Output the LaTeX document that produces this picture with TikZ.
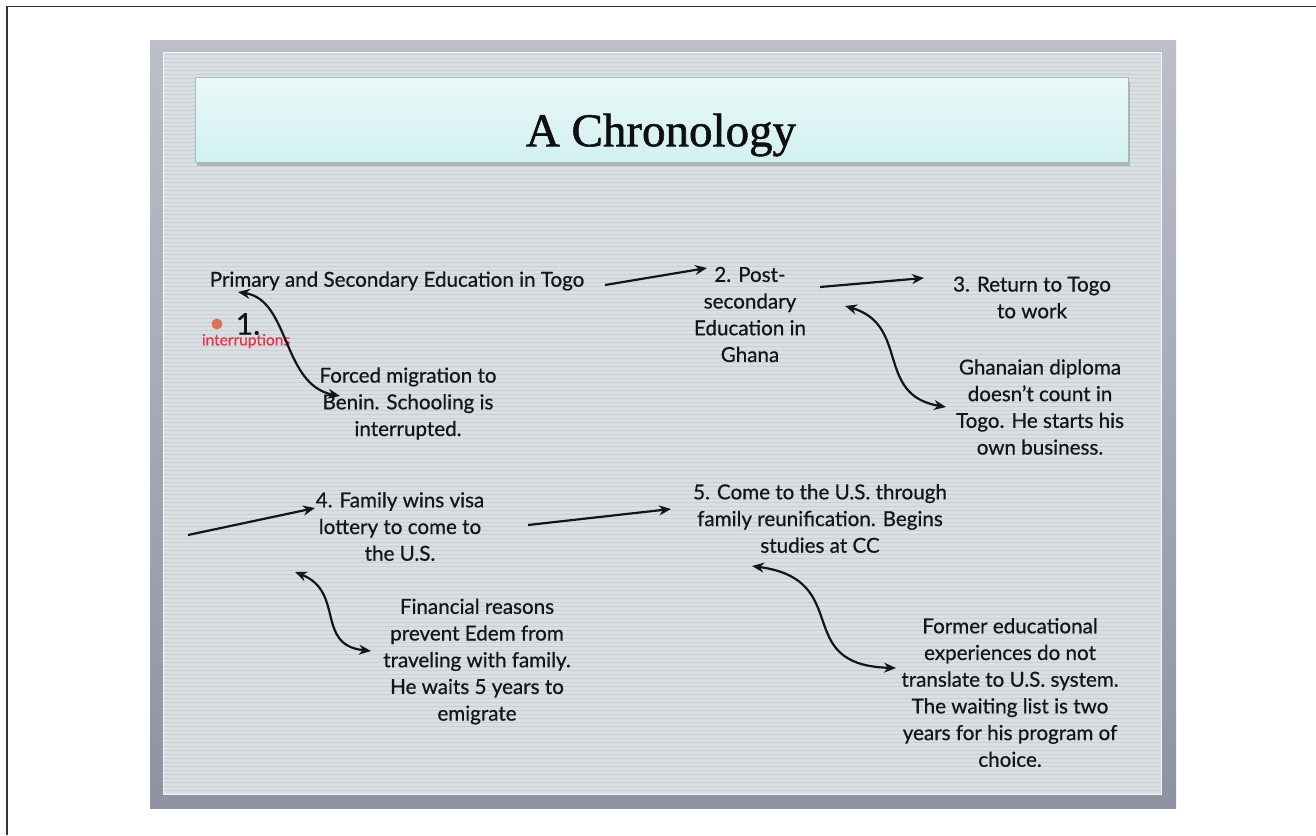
\documentclass[tikz,border=0pt]{standalone}
\usepackage{fontspec}
\setmainfont{Lato}[FakeBold=0.6]
\newfontfamily\titlefont{Liberation Serif}[FakeBold=1.2]
\usetikzlibrary{arrows.meta,calc,shadows}
\definecolor{frameC}{HTML}{A6AAB8}
\definecolor{frameD}{HTML}{8E92A2}
\definecolor{innerC}{HTML}{D9DFE2}
\definecolor{stripeC}{HTML}{C9D0D4}
\definecolor{titleTop}{HTML}{EAF8F8}
\definecolor{titleBot}{HTML}{D2F0F1}
\definecolor{titleEdge}{HTML}{9FBDBE}
\definecolor{dotC}{HTML}{D9735C}
\definecolor{redC}{HTML}{E8324A}
\definecolor{inkC}{HTML}{151515}
\begin{document}
\begin{tikzpicture}[x=1pt,y=-1pt,
  txt/.style={align=center,inner sep=0pt,text=inkC,font=\fontsize{20.6}{26.7}\selectfont},
  arr/.style={-{Stealth[length=12pt,width=10pt]},line width=2.2pt,draw=inkC},
  darr/.style={{Stealth[length=12pt,width=10pt]}-{Stealth[length=12pt,width=10pt]},line width=2.2pt,draw=inkC}]
\useasboundingbox (0,0) rectangle (1316,835);
\fill[white] (0,0) rectangle (1316,835);
% partial outer border
\draw[line width=1.2pt,draw=black!80] (7,835) -- (7,6.5) -- (1316,6.5);
% slide frame
\shade[top color=frameC!75,bottom color=frameD] (150,40) rectangle (1176,808);
\fill[innerC] (163,52) rectangle (1162,795);
\foreach \yy in {54,58,...,794} {\draw[stripeC,line width=1pt] (163,\yy) -- (1162,\yy);}
\draw[white!70!innerC,line width=1pt] (163.5,52.5) rectangle (1161.5,794.5);
% title box
\fill[black!45,opacity=0.5] (197,82) rectangle (1130,166);
\shade[top color=titleTop,bottom color=titleBot,draw=titleEdge,line width=0.8pt] (195,77) rectangle (1128,162);
\node[inner sep=0pt,text=inkC!70!black,font=\titlefont\fontsize{47}{52}\selectfont] (title) at (661,135) {A Chronology};
% nodes
\node[txt] (n1) at (397,281) {Primary and Secondary Education in Togo};
\node[txt,font=\fontsize{30}{32}\selectfont] (one) at (248,324) {1.};
\fill[dotC] (217,324) circle (5.5);
\node[inner sep=0pt,text=redC,font=\fontsize{15.5}{17}\selectfont] (intr) at (246,341) {interruptions};
\node[txt] (forced) at (408,403.5) {Forced migration to\\Benin. Schooling is\\interrupted.};
\node[txt] (n2) at (750,314.5) {2. Post-\\secondary\\Education in\\Ghana};
\node[txt] (n3) at (1032,297.5) {3. Return to Togo\\to work};
\node[txt] (ghana) at (1040,407) {Ghanaian diploma\\doesn't count in\\Togo. He starts his\\own business.};
\node[txt] (n4) at (400,526.5) {4. Family wins visa\\lottery to come to\\the U.S.};
\node[txt] (n5) at (820,518.5) {5. Come to the U.S. through\\family reunification. Begins\\studies at CC};
\node[txt] (fin) at (477,661.5) {Financial reasons\\prevent Edem from\\traveling with family.\\He waits 5 years to\\emigrate};
\node[txt] (former) at (1010,692.5) {Former educational\\experiences do not\\translate to U.S. system.\\The waiting list is two\\years for his program of\\choice.};
% connector end points
\coordinate (in4) at (188,535);
\coordinate (a1) at (605,285); \coordinate (a2) at (707,268);
\coordinate (b1) at (820,287); \coordinate (b2) at (924,278);
\coordinate (c2) at (315,508);
\coordinate (d1) at (528,525); \coordinate (d2) at (671,509);
% straight arrows
\draw[arr] (a1) -- (a2);
\draw[arr] (b1) -- (b2);
\draw[arr] (in4) -- (c2);
\draw[arr] (d1) -- (d2);
% curved double arrows
\coordinate (e1) at (238,292); \coordinate (e2) at (340,396);
\draw[darr] (e1) .. controls (290,300) and (282,385) .. (e2);
\coordinate (f1) at (845,306); \coordinate (f2) at (946,407);
\draw[darr] (f1) .. controls (910,325) and (875,395) .. (f2);
\coordinate (g1) at (295,572); \coordinate (g2) at (371,651);
\draw[darr] (g1) .. controls (345,592) and (315,645) .. (g2);
\coordinate (h1) at (752,566); \coordinate (h2) at (896,668);
\draw[darr] (h1) .. controls (855,580) and (790,665) .. (h2);
\end{tikzpicture}
\end{document}
